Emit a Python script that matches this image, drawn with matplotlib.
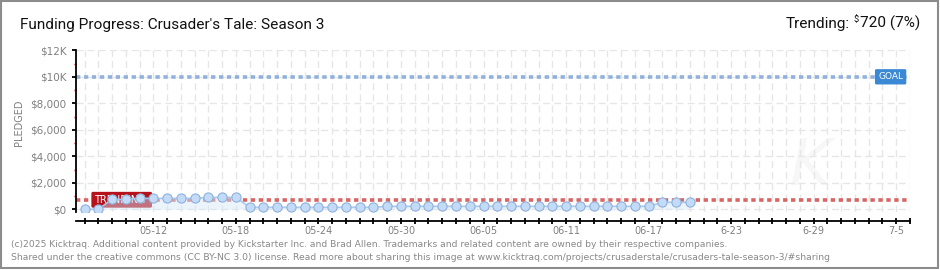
import matplotlib
matplotlib.use('Agg')
from matplotlib import pyplot as plt
from matplotlib.patches import Rectangle
import matplotlib.dates as mdates
import pandas as pd

# data
start_date = '2025-05-07'
axis_end = '2025-07-06'
pledged = [0, 0, 750, 750, 825, 825, 825, 825, 825, 900, 900, 900,
           150, 150, 150, 150, 150, 150, 150, 150, 150, 150,
           225, 225, 225, 225, 225, 225, 225, 225, 225, 225,
           225, 225, 225, 225, 225, 225, 225, 225, 225, 225,
           525, 525, 525]
goal = 10000
trending = 720
trending_pct = 7
y_ticks = [0, 2000, 4000, 6000, 8000, 10000, 12000]
y_labels = ['$0', '$2,000', '$4,000', '$6,000', '$8,000', '$10K', '$12K']
y_minor = [1000, 3000, 5000, 7000, 9000, 11000]
x_label_dates = ['2025-05-12', '2025-05-18', '2025-05-24', '2025-05-30', '2025-06-05',
                 '2025-06-11', '2025-06-17', '2025-06-23', '2025-06-29', '2025-07-05']
x_labels = ['05-12', '05-18', '05-24', '05-30', '06-05', '06-11', '06-17', '6-23', '6-29', '7-5']

title = "Funding Progress: Crusader's Tale: Season 3"
footer1 = ("(c)2025 Kicktraq. Additional content provided by Kickstarter Inc. and Brad Allen. "
           "Trademarks and related content are owned by their respective companies.")
footer2 = ("Shared under the creative commons (CC BY-NC 3.0) license. Read more about sharing this "
           "image at www.kicktraq.com/projects/crusaderstale/crusaders-tale-season-3/#sharing")

W, H = 940, 270
hfont = ['Roboto', 'DejaVu Sans']

dates = pd.date_range(start_date, periods=len(pledged), freq='D')
d0 = pd.Timestamp(start_date)

fig = plt.figure(figsize=(W / 100, H / 100), dpi=100)
ax = fig.add_axes([76.3 / W, 58 / H, 833.7 / W, 161.7 / H])

ax.set_xlim(d0 - pd.Timedelta(hours=14.4), pd.Timestamp(axis_end))
ax.set_ylim(-204, 12000)

# grid
ax.set_axisbelow(True)
ax.set_xticks(pd.to_datetime(x_label_dates))
ax.xaxis.set_minor_locator(mdates.DayLocator())
ax.set_xticklabels(x_labels)
ax.set_yticks(y_ticks)
ax.set_yticklabels(y_labels)
ax.set_yticks(y_minor, minor=True)
ax.grid(which='both', axis='x', color='#e6e6e6', ls=(0, (5, 3)), lw=1)
ax.grid(which='major', axis='y', color='#e6e6e6', ls=(0, (5, 3)), lw=1)

for s in ['top', 'right']:
    ax.spines[s].set_visible(False)
ax.spines['left'].set_linewidth(1.3)
ax.spines['bottom'].set_linewidth(1.3)
ax.spines['bottom'].set_position(('outward', 6.3))

ax.tick_params(axis='x', which='both', direction='inout', length=5, width=1.3,
               color='black', labelcolor='#808080', labelsize=7, pad=1.5)
ax.tick_params(axis='y', which='major', direction='out', length=3, width=1.3,
               color='black', labelcolor='#808080', labelsize=7.5, pad=4)
ax.tick_params(axis='y', which='minor', direction='out', length=1.6, width=1,
               color='#e00000')

ax.set_ylabel('PLEDGED', color='#808080', fontsize=7, labelpad=5)
ax.yaxis.label.set_position((0, 0.55))

# goal and trending lines
ax.axhline(goal, color='#8fb1dc', lw=2.6, ls=(0, (1.2, 1.0)), zorder=2)
ax.axhline(trending, color='#d86464', lw=2.6, ls=(0, (1.2, 1.0)), zorder=2)

ax.text(d0 + pd.Timedelta(hours=17), trending, 'TRENDING ', color='white', fontsize=7,
        ha='left', va='center', zorder=2.5,
        bbox=dict(boxstyle='round,pad=0.3,rounding_size=0.15', fc='#b5121b', ec='none'))
ax.text(pd.Timestamp(axis_end) - pd.Timedelta(hours=12), goal, 'GOAL', color='white',
        fontsize=6.5, ha='right', va='center', zorder=6,
        bbox=dict(boxstyle='round,pad=0.35,rounding_size=0.15', fc='#3b89d5', ec='none'))

# watermark
ax.text(0.88, 0.28, 'K', transform=ax.transAxes, fontsize=46, style='italic',
        color='#f7f7f7', ha='center', va='center', zorder=0.2)

# pledged series
ax.fill_between(dates, pledged, 0, color='#d4e6f8', alpha=0.45, lw=0, zorder=3)
ax.plot(dates, pledged, color='#a9c9ee', lw=1.2, zorder=4,
        marker='o', ms=6.6, mfc='#c3dbf6', mec='#8eb1dc', mew=0.8)

# header texts
fig.canvas.draw()
r = fig.canvas.get_renderer()

tt = fig.text(20 / W, 1 - 29.5 / H, title, fontsize=12, family=hfont, color='#111111',
              va='baseline', ha='left')
hsize = 12 * 303 / tt.get_window_extent(r).width
tt.set_fontsize(hsize)

t1 = fig.text(920 / W, 1 - 28 / H, '%d (%d%%)' % (trending, trending_pct), fontsize=hsize,
              family=hfont, color='#111111', va='baseline', ha='right')
bb = t1.get_window_extent(r)
t2 = fig.text(bb.x0 - 1, H - 22, '$', fontsize=hsize * 0.6, family=hfont, color='#111111',
              va='baseline', ha='right', transform=None)
bb2 = t2.get_window_extent(r)
fig.text(bb2.x0 - 4, H - 28, 'Trending:', fontsize=hsize, family=hfont, color='#111111',
         va='baseline', ha='right', transform=None)

# footer, sized to fit the original widths
for txt, y, x_end in [(footer1, 247, 720), (footer2, 259.5, 831)]:
    t = fig.text(11 / W, 1 - y / H, txt, fontsize=10, color='#888888', va='baseline', ha='left')
    w = t.get_window_extent(r).width
    t.set_fontsize(10 * (x_end - 11) / w)

fig.patches.append(Rectangle((1 / W, 2 / H), 937 / W, 267 / H, transform=fig.transFigure,
                             fill=False, ec='#8c8c8c', lw=1.5))

fig.savefig('out.png', dpi=100)
